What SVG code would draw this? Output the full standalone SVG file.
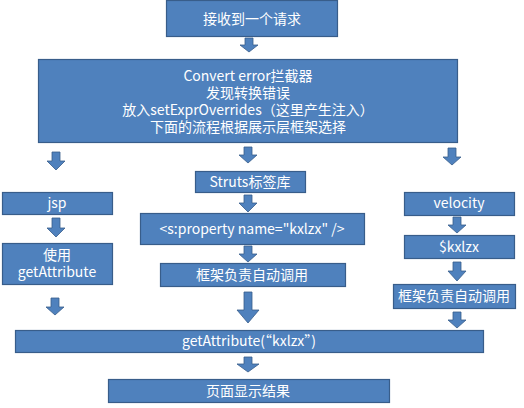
<svg xmlns="http://www.w3.org/2000/svg" width="524" height="408" viewBox="0 0 524 408">
<style>
.box{fill:#4F81BD;stroke:#385D8A;stroke-width:1.2}
.arr{fill:#4F81BD;stroke:#385D8A;stroke-width:0.8}
text{font-family:"Noto Sans CJK SC","Noto Sans",sans-serif;font-size:14px;fill:#fff;text-anchor:middle}
</style>
<rect width="524" height="408" fill="#fff"/>
<g id="n1"><rect class="box" x="166.5" y="0.5" width="171" height="36"/><text x="252" y="24">接收到一个请求</text></g>
<g id="n2"><rect class="box" x="38.5" y="59.5" width="419" height="83"/>
<text x="248" y="81">Convert error拦截器</text>
<text x="248" y="98">发现转换错误</text>
<text x="248" y="115">放入setExprOverrides（这里产生注入）</text>
<text x="248" y="132">下面的流程根据展示层框架选择</text></g>
<g id="n3"><rect class="box" x="2.5" y="192.5" width="110" height="22"/><text x="57" y="208">jsp</text></g>
<g id="n4"><rect class="box" x="2.5" y="243.5" width="110" height="41"/><text x="57" y="260">使用</text><text x="57" y="277">getAttribute</text></g>
<g id="n5"><rect class="box" x="195.5" y="171.5" width="110" height="21"/><text x="250" y="187">Struts标签库</text></g>
<g id="n6"><rect class="box" x="140.5" y="213.5" width="224" height="31"/><text x="252" y="234">&lt;s:property name="kxlzx" /&gt;</text></g>
<g id="n7"><rect class="box" x="160.5" y="263.5" width="185" height="23"/><text x="252" y="280">框架负责自动调用</text></g>
<g id="n8"><rect class="box" x="404.5" y="192.5" width="110" height="23"/><text x="459" y="208">velocity</text></g>
<g id="n9"><rect class="box" x="404.5" y="235.5" width="110" height="23"/><text x="459" y="252">$kxlzx</text></g>
<g id="n10"><rect class="box" x="393.5" y="284.5" width="122" height="24"/><text x="454" y="301">框架负责自动调用</text></g>
<g id="n11"><rect class="box" x="15.5" y="330.5" width="468" height="22"/><text x="249" y="346">getAttribute(“kxlzx”)</text></g>
<g id="n12"><rect class="box" x="108.5" y="379.5" width="281" height="23"/><text x="248" y="396">页面显示结果</text></g>
<g id="connectors">
<path class="arr" d="M245,38 H253 V45 H258 L249,52 L240,45 H245 Z"/>
<path class="arr" d="M52,152 H60 V161 H65 L56,170 L47,161 H52 Z"/>
<path class="arr" d="M244,147 H252 V155 H257 L248,163 L239,155 H244 Z"/>
<path class="arr" d="M448,148 H456 V157 H461 L452,165 L443,157 H448 Z"/>
<path class="arr" d="M52,218 H60 V228 H65 L56,237 L47,228 H52 Z"/>
<path class="arr" d="M244,195 H252 V203 H257 L248,212 L239,203 H244 Z"/>
<path class="arr" d="M244,246 H252 V254 H257 L248,262 L239,254 H244 Z"/>
<path class="arr" d="M453,217 H461 V225 H466 L457,233 L448,225 H453 Z"/>
<path class="arr" d="M453,262 H461 V271 H466 L457,281 L448,271 H453 Z"/>
<path class="arr" d="M51,298 H59 V307 H64 L55,315 L46,307 H51 Z"/>
<path class="arr" d="M244,292 H252 V310 H259 L248,323 L237,310 H244 Z"/>
<path class="arr" d="M453,312 H461 V320 H466 L457,328 L448,320 H453 Z"/>
<path class="arr" d="M244,357 H252 V364 H259 L248,372 L237,364 H244 Z"/>
</g>
</svg>
